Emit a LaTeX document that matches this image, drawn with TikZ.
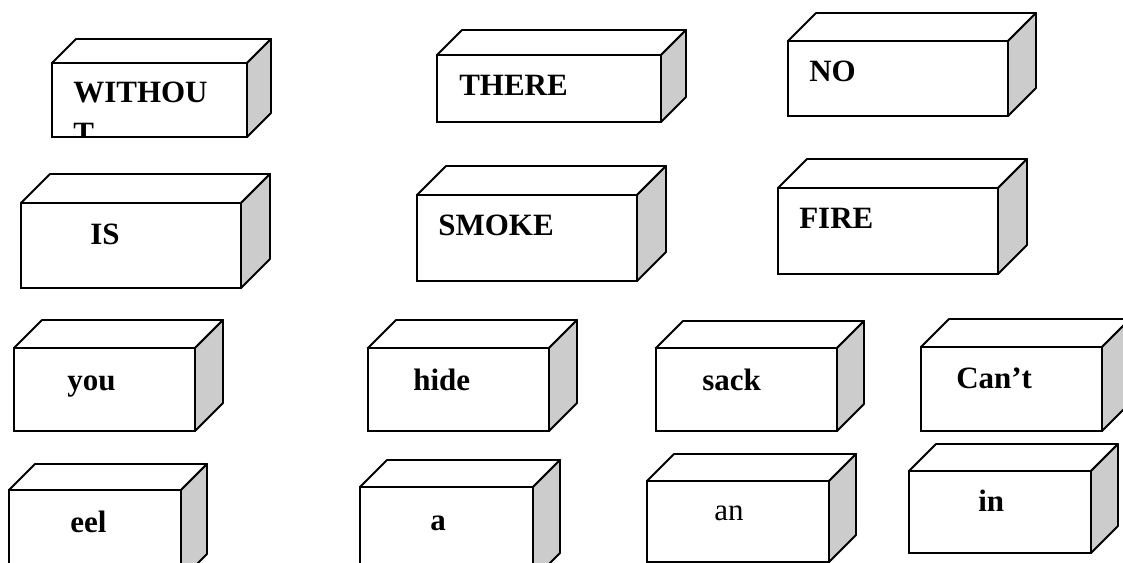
\documentclass[tikz,border=0pt]{standalone}
\usepackage{fontspec}
\setmainfont{Liberation Serif}
\usetikzlibrary{fit}
\definecolor{sidegray}{HTML}{CCCCCC}
\definecolor{edgeblack}{HTML}{000000}
\tikzset{
  front/.style={draw=edgeblack, line width=1.4pt, fill=white, inner sep=0pt, outer sep=0pt},
  topface/.style={draw=edgeblack, line width=1.4pt, fill=white, line join=round},
  sideface/.style={draw=edgeblack, line width=1.4pt, fill=sidegray, line join=round},
  word/.style={inner sep=0pt, anchor=base west, font=\fontsize{23.25}{30}\selectfont\bfseries},
}
% top and right faces of a word cube, drawn on a front node
\newcommand{\cubefaces}[2]{%
  \draw[topface] (#1.north west) -- ([shift={(#2,-#2)}]#1.north west)
    -- ([shift={(#2,-#2)}]#1.north east) -- (#1.north east) -- cycle;
  \draw[sideface] (#1.north east) -- ([shift={(#2,-#2)}]#1.north east)
    -- ([shift={(#2,-#2)}]#1.south east) -- (#1.south east) -- cycle;
}
\begin{document}
\begin{tikzpicture}[x=0.75pt, y=-0.75pt]
  \clip (0,0) rectangle (1123,563);
  \fill[white] (0,0) rectangle (1123,563);

  % ---- first row ----
  \node[front, fit={(52,63) (247,137)}] (without) {};
  \cubefaces{without}{24}
  \begin{scope}
    \clip (without.north west) rectangle (without.south east);
    % base anchor sits on the last line here
    \node[word, align=left] (without-t) at (73,143) {WITHOU\\T};
  \end{scope}

  \node[front, fit={(437,55) (661,122)}] (there) {};
  \cubefaces{there}{25}
  \node[word] (there-t) at (459,96) {THERE};

  \node[front, fit={(788,41) (1008,116)}] (no) {};
  \cubefaces{no}{28}
  \node[word] (no-t) at (809,82) {NO};

  % ---- second row ----
  \node[front, fit={(21,203) (241,288)}] (is) {};
  \cubefaces{is}{29}
  \node[word] (is-t) at (90,244) {IS};

  \node[front, fit={(417,195) (637,281)}] (smoke) {};
  \cubefaces{smoke}{29}
  \node[word] (smoke-t) at (438,235) {SMOKE};

  \node[front, fit={(778,188) (998,274)}] (fire) {};
  \cubefaces{fire}{29}
  \node[word] (fire-t) at (799,228) {FIRE};

  % ---- third row ----
  \node[front, fit={(14,348) (195,431)}] (you) {};
  \cubefaces{you}{28}
  \node[word] (you-t) at (67,390) {you};

  \node[front, fit={(368,348) (549,431)}] (hide) {};
  \cubefaces{hide}{28}
  \node[word] (hide-t) at (413,390) {hide};

  \node[front, fit={(656,348) (837,431)}] (sack) {};
  \cubefaces{sack}{27}
  \node[word] (sack-t) at (702,390) {sack};

  \node[front, fit={(921,347) (1102,431)}] (cant) {};
  \cubefaces{cant}{28}
  \node[word] (cant-t) at (956,388) {Can’t};

  % ---- fourth row ----
  \node[front, fit={(9,490) (181,580)}] (eel) {};
  \cubefaces{eel}{26}
  \node[word] (eel-t) at (70,532) {eel};

  \node[front, fit={(360,487) (533,580)}] (a) {};
  \cubefaces{a}{27}
  \node[word] (a-t) at (430,530) {a};

  \node[front, fit={(647,481) (829,562)}] (an) {};
  \cubefaces{an}{27}
  \node[word, anchor=base, font=\fontsize{23.25}{30}\selectfont] (an-t) at (729,520) {an};

  \node[front, fit={(909,471) (1091,553)}] (in) {};
  \cubefaces{in}{27}
  \node[word] (in-t) at (978,511) {in};
\end{tikzpicture}
\end{document}
